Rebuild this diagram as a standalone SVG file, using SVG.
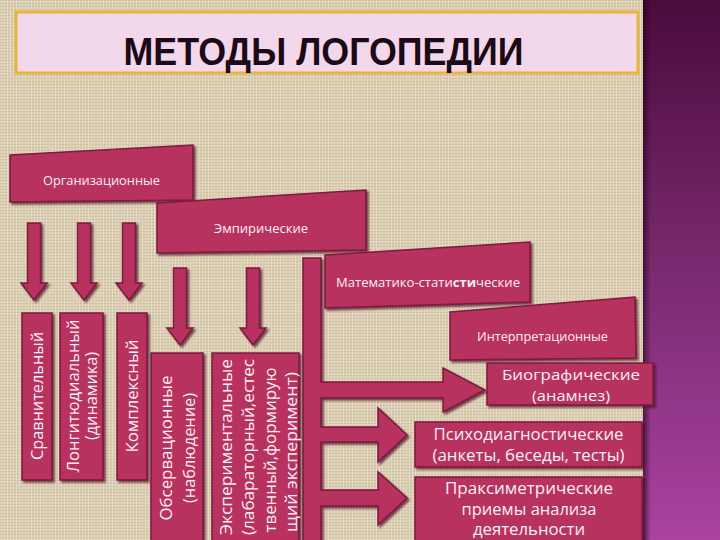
<svg xmlns="http://www.w3.org/2000/svg" width="720" height="540" viewBox="0 0 720 540">
<defs>
<pattern id="linen" width="6" height="6" patternUnits="userSpaceOnUse">
<rect width="6" height="6" fill="#dbceb3"/>
<path d="M0 0.5H6M0 3.5H6" stroke="#c6b595" stroke-width="0.8" opacity="0.75"/>
<path d="M1.5 0V6M4.5 0V6" stroke="#ece3cf" stroke-width="0.8" opacity="0.75"/>
</pattern>
<linearGradient id="purple" x1="0" y1="0" x2="0" y2="1">
<stop offset="0" stop-color="#4a0b3c"/>
<stop offset="0.5" stop-color="#7a2a70"/>
<stop offset="1" stop-color="#aa42a2"/>
</linearGradient>
<linearGradient id="edge" x1="0" y1="0" x2="1" y2="0">
<stop offset="0" stop-color="#200018" stop-opacity="0.6"/>
<stop offset="1" stop-color="#200018" stop-opacity="0"/>
</linearGradient>
<filter id="sh" x="-10%" y="-10%" width="130%" height="130%">
<feDropShadow dx="2" dy="2" stdDeviation="1" flood-color="#4a0a26" flood-opacity="0.75"/>
</filter>
</defs>
<style>
.box{fill:#b8305e;stroke:#7e1a3e;stroke-width:1.5;filter:url(#sh)}
.lbl{font-family:"Open Sans","DejaVu Sans",sans-serif;fill:#fbeef4;text-anchor:middle}
.sm{font-size:13px}
.md{font-size:16px}
.bg{font-size:15px}
</style>
<rect x="0" y="0" width="720" height="540" fill="url(#linen)"/>
<rect x="643" y="0" width="77" height="540" fill="url(#purple)"/>
<rect x="643" y="0" width="8" height="540" fill="url(#edge)"/>

<g id="title">
<rect x="16" y="12" width="622" height="61" fill="#f3d7ea" stroke="#e8b43c" stroke-width="3"/>
<text x="323.5" y="65" font-family="'Liberation Sans',Arial,sans-serif" font-weight="bold" font-size="38" fill="#1c0a16" text-anchor="middle" textLength="400" lengthAdjust="spacingAndGlyphs">МЕТОДЫ ЛОГОПЕДИИ</text>
</g>

<g id="org">
<polygon class="box" points="10,155 193,145 193,200 10,202"/>
<text class="lbl sm" x="101.5" y="185" textLength="117" lengthAdjust="spacingAndGlyphs">Организационные</text>
</g>
<g id="emp">
<polygon class="box" points="157,203 366,190 366,250 157,253"/>
<text class="lbl sm" x="261" y="233" textLength="94" lengthAdjust="spacingAndGlyphs">Эмпирические</text>
</g>

<g id="connectors">
<polygon class="box" points="27.5,223 40.5,223 40.5,283 47,283 34,300 21,283 27.5,283"/>
<polygon class="box" points="77.5,223 90.5,223 90.5,283 97,283 84,300 71,283 77.5,283"/>
<polygon class="box" points="122.5,223 135.5,223 135.5,283 142,283 129,300 116,283 122.5,283"/>
<polygon class="box" points="173.5,268 186.5,268 186.5,328 193,328 180,345 167,328 173.5,328"/>
<polygon class="box" points="246.5,268 259.5,268 259.5,328 266,328 253,345 240,328 246.5,328"/>
<polygon class="box" points="303,258 321,258 321,382 443,382 443,368 485,390 443,412 443,398 321,398 321,427 378,427 378,408 407,435 378,462 378,442 321,442 321,490 378,490 378,472 407,498 378,525 378,506 321,506 321,542 303,542"/>
</g>

<g id="mat">
<polygon class="box" points="325,255 530,242 530,302 325,308"/>
<text class="lbl sm" x="428" y="287" textLength="184" lengthAdjust="spacingAndGlyphs">Математико-стати<tspan font-weight="bold">сти</tspan>ческие</text>
</g>
<g id="interp">
<polygon class="box" points="450,312 635,297 636,358 450,360"/>
<text class="lbl sm" x="542.5" y="341" textLength="131" lengthAdjust="spacingAndGlyphs">Интерпретационные</text>
</g>

<g id="sravn">
<rect class="box" x="22" y="313" width="30" height="167"/>
<text class="lbl md" transform="translate(37,396) rotate(-90)" x="0" y="6" textLength="128" lengthAdjust="spacingAndGlyphs">Сравнительный</text>
</g>
<g id="longit">
<rect class="box" x="60" y="313" width="43" height="167"/>
<text class="lbl md" transform="translate(81.5,396) rotate(-90)"><tspan x="0" y="-3" textLength="153" lengthAdjust="spacingAndGlyphs">Лонгитюдиальный</tspan><tspan x="0" y="15" textLength="88" lengthAdjust="spacingAndGlyphs">(динамика)</tspan></text>
</g>
<g id="kompl">
<rect class="box" x="117" y="313" width="30" height="167"/>
<text class="lbl md" transform="translate(132,396) rotate(-90)" x="0" y="6" textLength="113" lengthAdjust="spacingAndGlyphs">Комплексный</text>
</g>
<g id="observ">
<rect class="box" x="151" y="353" width="52" height="192"/>
<text class="lbl md" transform="translate(177,448) rotate(-90)"><tspan x="0" y="-5" textLength="145" lengthAdjust="spacingAndGlyphs">Обсервационные</tspan><tspan x="0" y="18" textLength="110" lengthAdjust="spacingAndGlyphs">(наблюдение)</tspan></text>
</g>
<g id="exper">
<rect class="box" x="212" y="353" width="87" height="192"/>
<text class="lbl md" transform="translate(256,447) rotate(-90)"><tspan x="0" y="-24" textLength="176" lengthAdjust="spacingAndGlyphs">Экспериментальные</tspan><tspan x="0" y="-2" textLength="176" lengthAdjust="spacingAndGlyphs">(лабараторный,естес</tspan><tspan x="-3" y="20" textLength="165" lengthAdjust="spacingAndGlyphs">твенный,формирую</tspan><tspan x="-5" y="41" textLength="160" lengthAdjust="spacingAndGlyphs">щий эксперимент)</tspan></text>
</g>

<g id="biogr">
<rect class="box" x="487" y="363" width="166" height="42"/>
<text class="lbl bg"><tspan x="571" y="380" textLength="138" lengthAdjust="spacingAndGlyphs">Биографические</tspan><tspan x="571" y="401" textLength="78" lengthAdjust="spacingAndGlyphs">(анамнез)</tspan></text>
</g>
<g id="psycho">
<rect class="box" x="415" y="422" width="227" height="45"/>
<text class="lbl md"><tspan x="528.5" y="440" textLength="190" lengthAdjust="spacingAndGlyphs">Психодиагностические</tspan><tspan x="528.5" y="461" textLength="192" lengthAdjust="spacingAndGlyphs">(анкеты, беседы, тесты)</tspan></text>
</g>
<g id="praks">
<rect class="box" x="415" y="477" width="227" height="70"/>
<text class="lbl md"><tspan x="529" y="494" textLength="168" lengthAdjust="spacingAndGlyphs">Праксиметрические</tspan><tspan x="529" y="515" textLength="135" lengthAdjust="spacingAndGlyphs">приемы анализа</tspan><tspan x="529" y="535" textLength="112" lengthAdjust="spacingAndGlyphs">деятельности</tspan></text>
</g>
</svg>
